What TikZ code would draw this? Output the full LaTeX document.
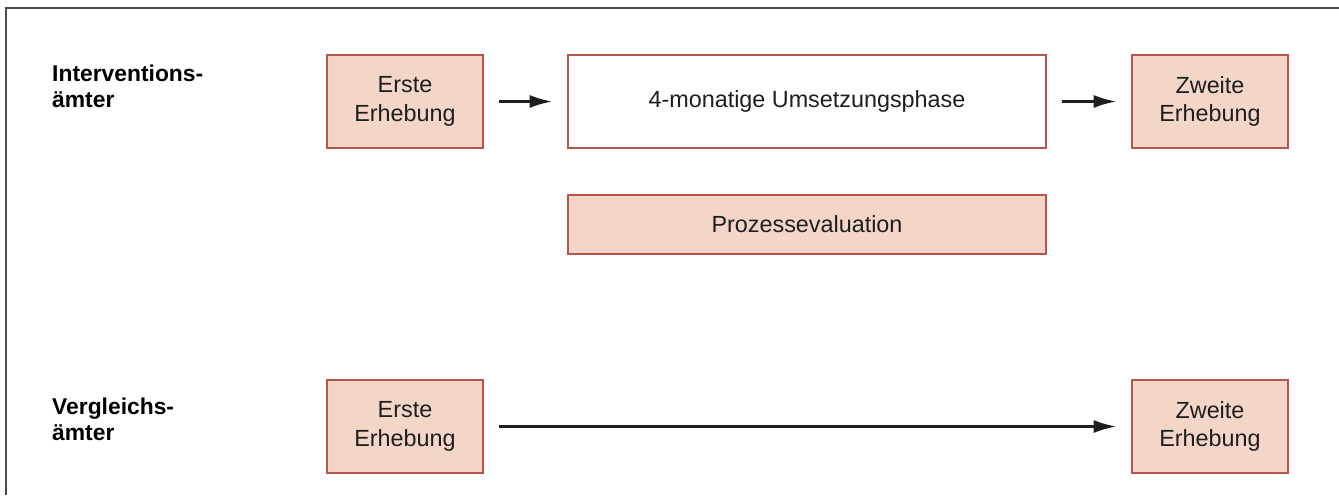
\documentclass[tikz,border=0pt]{standalone}
\usepackage{fontspec}
\setmainfont{Liberation Sans}
\usetikzlibrary{arrows.meta}
\definecolor{boxfill}{RGB}{243,214,200}
\definecolor{boxline}{RGB}{184,84,76}
\definecolor{ink}{RGB}{30,30,30}
\tikzset{
  survey/.style={draw=boxline,fill=boxfill,line width=0.8pt,text=ink,
    minimum width=156*0.02cm,minimum height=93*0.02cm,align=center,
    font=\fontsize{13.3}{16.4}\selectfont},
  phasebox/.style={survey,fill=white,minimum width=478*0.02cm},
  evalbox/.style={survey,minimum width=478*0.02cm,minimum height=59*0.02cm},
  grouplabel/.style={anchor=west,align=left,text=black,
    font=\fontsize{13}{14.9}\selectfont\bfseries},
  flow/.style={-{Latex[length=13pt,width=7.5pt]},line width=1.5pt,draw=ink,
    shorten <=8.5pt,shorten >=8.5pt}
}
\begin{document}
\begin{tikzpicture}[x=0.02cm,y=-0.02cm]
\useasboundingbox (0,0) rectangle (1339,495);
\draw[line width=0.9pt,black!70] (6,495) -- (6,8) -- (1339,8);

\node[grouplabel] (lab1) at (46,86) {Interventions-\\ämter};
\node[grouplabel] (lab2) at (46,419) {Vergleichs-\\ämter};

\node[survey] (e1) at (405,101.5) {Erste\\Erhebung};
\node[phasebox] (um) at (807,101.5) {4-monatige Umsetzungsphase};
\node[survey] (z1) at (1210,101.5) {Zweite\\Erhebung};
\node[evalbox] (pe) at (807,224.5) {Prozessevaluation};

\node[survey] (e2) at (405,426.5) {Erste\\Erhebung};
\node[survey] (z2) at (1210,426.5) {Zweite\\Erhebung};

\draw[flow] (e1) -- (um);
\draw[flow] (um) -- (z1);
\draw[flow] (e2) -- (z2);
\end{tikzpicture}
\end{document}
